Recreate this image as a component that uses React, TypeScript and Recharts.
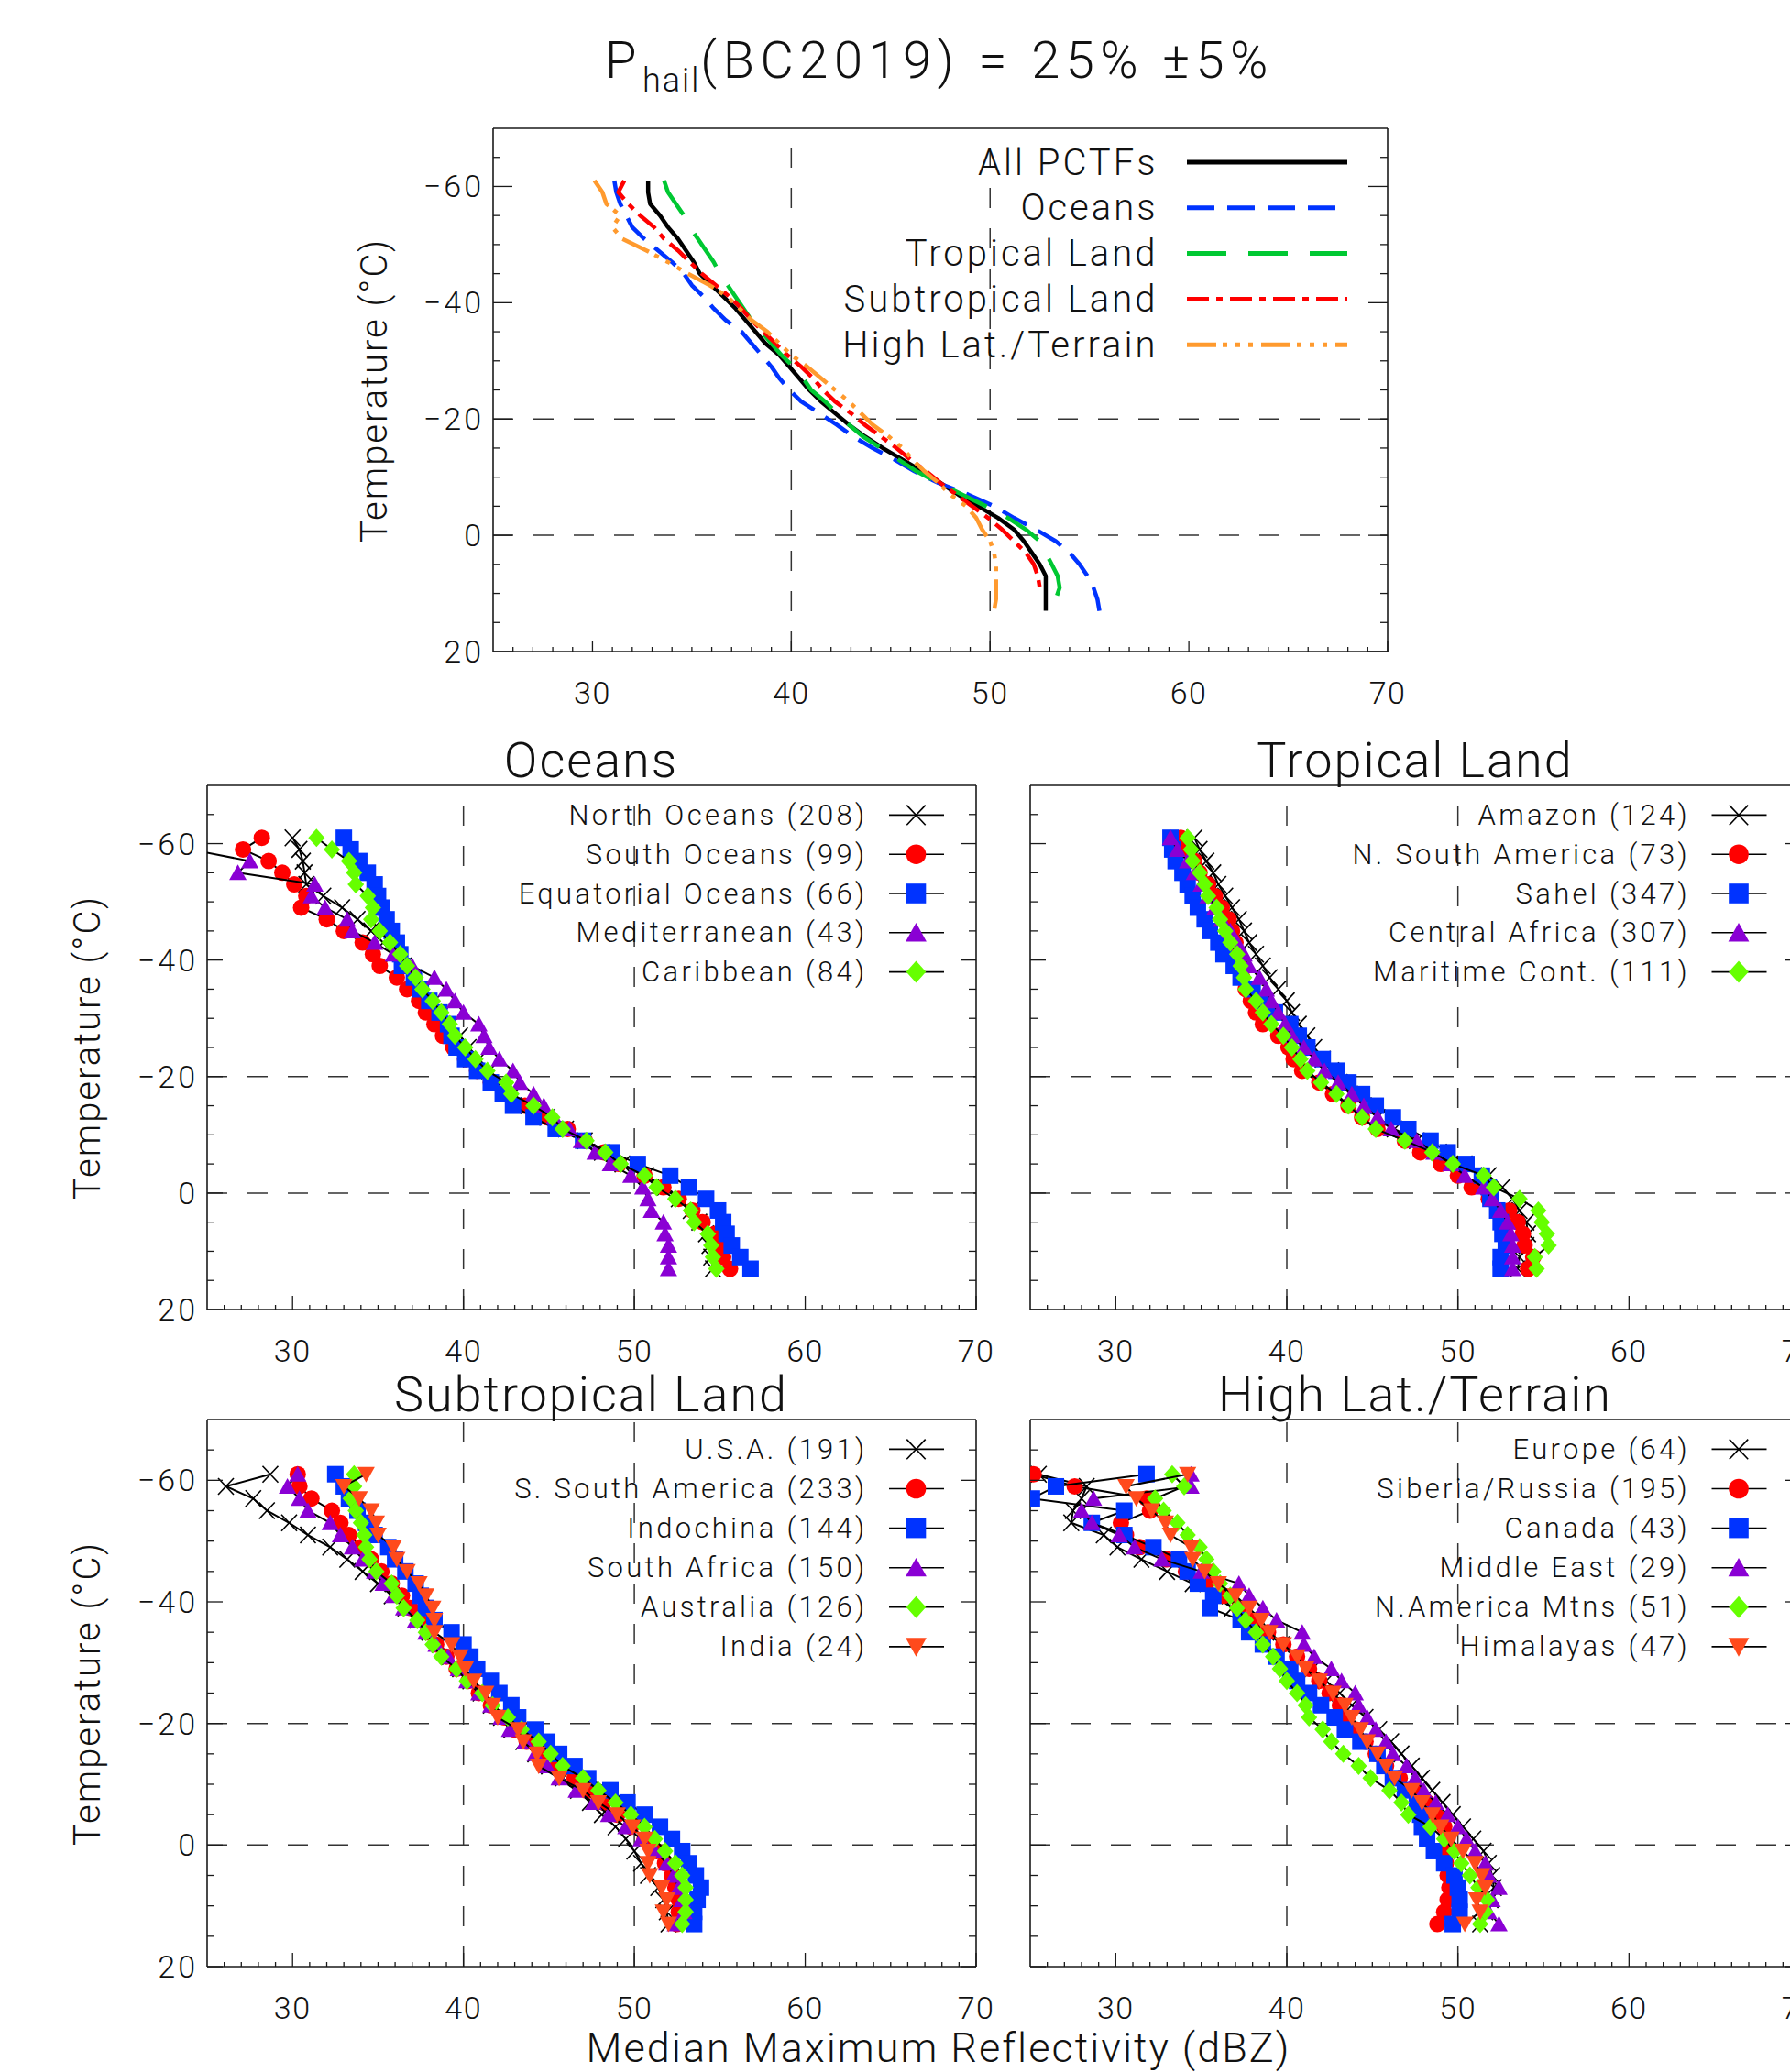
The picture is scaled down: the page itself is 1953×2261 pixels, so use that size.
import React from 'react';
import { ScatterChart, Scatter, XAxis, YAxis, ReferenceLine } from 'recharts';

const FONT = "Roboto, 'Open Sans', 'DejaVu Sans', sans-serif";
const FW = 300;
const INK = '#1a1a1a';

// Temperature levels (deg C) of every profile point
const TEMPS = [-61, -59, -57, -55, -53, -51, -49, -47, -45, -43, -41, -39, -37, -35, -33, -31, -29, -27, -25, -23, -21, -19, -17, -15, -13, -11, -9, -7, -5, -3, -1, 1, 3, 5, 7, 9, 11, 13];

// ---- top panel: regional medians (dBZ) ----
const ALL_PCTFS = [32.8, 32.8, 32.9, 33.4, 33.8, 34.3, 34.7, 35.1, 35.4, 36.0, 36.6, 37.2, 37.7, 38.2, 38.7, 39.4, 39.9, 40.4, 40.9, 41.5, 42.2, 42.9, 43.7, 44.6, 45.6, 46.6, 47.5, 48.4, 49.4, 50.4, 51.2, 51.7, 52.1, 52.5, 52.8, 52.8, 52.8, 52.8];
const OCEANS_ALL = [31.1, 31.2, 31.4, 31.7, 32.0, 32.6, 33.3, 34.0, 34.6, 35.0, 35.6, 36.1, 36.7, 37.5, 38.0, 38.5, 39.0, 39.4, 39.9, 40.5, 41.4, 42.3, 43.1, 44.1, 45.2, 46.2, 47.4, 48.9, 50.2, 51.2, 52.3, 53.3, 54.0, 54.5, 54.9, 55.2, 55.4, 55.5];
const TROPICAL_ALL = [33.6, 33.8, 34.2, 34.6, 34.9, 35.3, 35.7, 36.1, 36.4, 36.8, 37.2, 37.6, 38.0, 38.5, 39.0, 39.5, 40.1, 40.6, 41.0, 41.7, 42.3, 42.9, 43.6, 44.5, 45.4, 46.3, 47.4, 48.6, 49.8, 50.9, 51.8, 52.5, 52.8, 53.1, 53.4, 53.5, 53.3, 53.3];
const SUBTROP_ALL = [31.6, 31.3, 31.8, 32.4, 33.1, 33.6, 34.3, 34.9, 35.5, 36.2, 36.9, 37.5, 38.0, 38.6, 39.2, 39.8, 40.5, 41.1, 41.6, 42.2, 43.0, 43.7, 44.5, 45.3, 46.0, 46.8, 47.5, 48.3, 49.1, 49.9, 50.6, 51.2, 51.8, 52.2, 52.4, 52.5, null, null];
const HIGHLAT_ALL = [30.1, 30.5, 30.7, 31.4, 31.0, 31.5, 32.7, 33.8, 34.8, 35.9, 36.8, 37.4, 38.0, 38.8, 39.4, 40.0, 40.8, 41.5, 42.2, 42.9, 43.5, 44.1, 44.9, 45.6, 46.1, 46.7, 47.4, 48.0, 48.8, 49.3, 49.6, 50.0, 50.2, 50.3, 50.3, 50.3, 50.3, 50.2];

// ---- Oceans ----
const NORTH_OCEANS = [30.0, 30.4, 30.6, 30.7, 30.8, 31.8, 32.9, 33.8, 34.6, 35.3, 35.9, 36.5, 37.1, 37.7, 38.3, 38.8, 39.3, 39.8, 40.3, 40.9, 41.5, 42.2, 42.9, 43.8, 44.9, 46.0, 47.1, 48.1, 49.3, 50.7, 51.8, 52.6, 53.3, 53.8, 54.2, 54.4, 54.5, 54.6];
const SOUTH_OCEANS = [28.2, 27.1, 28.6, 29.4, 30.1, 30.8, 30.5, 32.0, 33.0, 34.1, 34.7, 35.1, 36.1, 36.7, 37.4, 37.8, 38.3, 38.8, 39.4, 40.1, 40.8, 41.6, 42.5, 43.6, 44.9, 46.1, 47.1, 48.2, 49.1, 50.6, 51.7, 52.6, 53.4, 54.0, 54.7, 55.0, 55.2, 55.6];
const EQUATORIAL_OCEANS = [33.0, 33.4, 33.9, 34.4, 34.8, 35.0, 35.2, 35.5, 35.8, 36.1, 36.3, 36.4, 37.1, 37.5, 38.0, 38.6, 39.1, 39.3, 39.6, 40.1, 40.8, 41.6, 42.3, 42.9, 44.1, 45.4, 47.0, 48.7, 50.2, 52.1, 53.2, 54.2, 54.9, 55.2, 55.4, 55.7, 56.2, 56.8];
const MEDITERRANEAN = [null, 24.0, 27.5, 26.8, 31.3, 31.1, 31.9, 33.2, 33.5, 34.8, 35.9, 37.0, 38.3, 39.0, 39.5, 40.0, 40.9, 41.2, 41.5, 42.1, 42.9, 43.3, 44.1, 44.7, 45.3, 46.2, 46.9, 47.7, 48.6, 49.8, 50.5, 50.8, 51.0, 51.7, 51.8, 52.0, 52.0, 52.0];
const CARIBBEAN = [31.4, 32.3, 33.3, 33.6, 33.7, 34.4, 34.7, 34.6, 35.1, 35.7, 36.3, 36.7, 37.2, 37.6, 38.2, 38.7, 39.2, 39.5, 40.1, 40.7, 41.4, 42.5, 42.8, 44.1, 45.2, 45.8, 47.2, 48.3, 49.2, 50.6, 51.3, 52.4, 53.3, 53.5, 54.3, 54.5, 54.6, 54.8];

// ---- Tropical Land ----
const AMAZON = [34.6, 34.9, 35.3, 35.7, 36.0, 36.4, 36.8, 37.2, 37.5, 37.8, 38.2, 38.6, 39.0, 39.5, 40.0, 40.3, 40.7, 41.2, 41.6, 42.1, 42.6, 43.1, 43.7, 44.5, 45.3, 46.3, 47.6, 48.9, 50.4, 51.8, 52.6, 53.2, 53.6, 54.0, 54.1, 54.0, 53.6, 53.5];
const N_SOUTH_AMERICA = [33.8, 34.1, 34.6, 34.9, 35.4, 35.8, 36.2, 36.6, 36.8, 37.0, 37.1, 37.2, 37.4, 37.6, 37.9, 38.2, 38.6, 39.5, 40.1, 40.4, 40.9, 41.9, 42.7, 43.6, 44.4, 45.3, 46.9, 47.8, 49.0, 50.0, 50.8, 51.8, 53.0, 53.5, 53.8, 53.9, 54.4, 54.1];
const SAHEL = [33.2, 33.3, 33.5, 33.9, 34.2, 34.5, 34.8, 35.2, 35.5, 36.0, 36.3, 36.9, 37.3, 38.0, 38.6, 39.3, 40.2, 40.7, 41.2, 42.1, 42.9, 43.6, 44.4, 45.2, 46.2, 47.1, 48.4, 49.4, 50.5, 51.4, 51.8, 51.9, 52.3, 52.5, 52.6, 52.8, 52.5, 52.5];
const CENTRAL_AFRICA = [33.2, 33.6, 34.2, 34.6, 35.0, 35.4, 35.8, 36.2, 36.7, 37.1, 37.5, 37.8, 38.4, 38.8, 39.1, 39.5, 39.9, 40.3, 41.0, 41.6, 42.2, 43.0, 43.8, 44.5, 45.3, 46.1, 47.6, 48.6, 49.6, 50.4, 51.5, 52.0, 52.5, 52.9, 53.1, 53.2, 53.2, 53.2];
const MARITIME_CONT = [34.2, 34.4, 34.5, 34.9, 35.2, 35.4, 35.9, 36.1, 36.4, 36.7, 37.1, 37.3, 37.5, 37.6, 38.2, 38.6, 39.1, 39.8, 40.3, 40.8, 41.2, 42.0, 42.9, 43.6, 44.4, 45.2, 46.9, 48.5, 49.7, 51.5, 52.1, 53.6, 54.7, 54.9, 55.2, 55.3, 54.5, 54.6];

// ---- Subtropical Land ----
const USA = [28.7, 26.1, 27.7, 28.5, 29.8, 30.9, 32.2, 33.2, 34.1, 35.0, 35.8, 36.6, 37.3, 38.0, 38.6, 39.2, 39.8, 40.4, 41.0, 41.6, 42.2, 42.8, 43.5, 44.2, 45.0, 45.8, 46.7, 47.4, 48.1, 48.9, 49.5, 50.0, 50.4, 50.8, 51.4, 51.7, 51.9, 52.0];
const S_SOUTH_AMERICA = [30.3, 30.4, 31.1, 32.3, 32.8, 33.3, 34.0, 34.6, 35.2, 35.8, 36.4, 36.9, 37.4, 37.9, 38.4, 39.0, 39.6, 40.3, 40.9, 41.6, 42.4, 43.0, 43.7, 44.6, 45.5, 46.5, 47.4, 48.2, 49.0, 49.8, 50.6, 51.3, 51.8, 52.2, 52.4, 52.6, 52.6, 52.5];
const INDOCHINA = [32.5, 33.0, 33.3, 33.8, 34.3, 34.8, 35.6, 36.0, 36.6, 37.2, 37.5, 37.8, 38.3, 39.3, 40.0, 40.4, 40.8, 41.6, 42.1, 42.8, 43.2, 44.2, 44.9, 45.6, 46.5, 47.3, 48.6, 49.6, 50.6, 51.5, 52.2, 52.8, 53.2, 53.6, 53.9, 53.7, 53.5, 53.5];
const SOUTH_AFRICA = [30.3, 29.7, 30.4, 30.9, 32.2, 32.8, 33.5, 34.1, 34.8, 35.3, 35.9, 36.5, 37.2, 37.8, 38.4, 39.1, 39.7, 40.2, 40.9, 41.6, 42.2, 42.7, 43.6, 44.2, 44.9, 45.6, 46.6, 47.6, 48.5, 49.5, 50.4, 51.2, 51.9, 52.3, 52.6, 52.8, 52.9, 52.4];
const AUSTRALIA = [33.6, 33.6, 33.4, 33.7, 34.0, 34.2, 34.3, 34.5, 34.9, 35.8, 36.1, 36.5, 37.3, 37.8, 38.2, 38.7, 39.6, 40.2, 41.1, 41.7, 42.6, 43.4, 44.4, 45.1, 45.8, 47.0, 47.9, 48.9, 49.8, 50.6, 51.2, 51.8, 52.4, 52.8, 53.0, 53.0, 53.0, 52.8];
const INDIA = [34.3, 33.0, 33.9, 34.6, 34.9, 35.0, 35.9, 36.1, 36.7, 37.4, 37.8, 38.2, 38.3, 38.3, 39.3, 39.8, 40.1, 40.6, 41.3, 41.7, 42.0, 43.2, 43.5, 44.3, 44.4, 45.6, 47.0, 47.9, 49.0, 49.9, 50.6, 50.8, 50.8, 50.9, 51.6, 51.9, 51.7, 52.0];

// ---- High Lat./Terrain ----
const EUROPE = [25.5, 28.3, 28.0, 27.5, 27.4, 29.3, 30.1, 31.5, 33.0, 34.5, 35.8, 36.8, 37.8, 38.8, 39.7, 40.6, 41.5, 42.3, 43.1, 43.8, 44.6, 45.4, 46.1, 46.7, 47.3, 47.9, 48.5, 49.1, 49.7, 50.3, 50.9, 51.5, 51.8, 52.0, 52.1, 51.9, 51.6, 51.3];
const SIBERIA_RUSSIA = [25.2, 27.6, 31.8, 32.0, 30.3, 30.6, 31.4, 33.0, 34.1, 35.3, 36.3, 37.2, 38.0, 38.9, 39.8, 40.6, 41.3, 41.9, 42.5, 43.1, 43.5, 44.0, 44.6, 45.2, 45.8, 46.6, 47.6, 48.2, 48.7, 49.2, 49.4, 49.4, 49.3, 49.4, 49.5, 49.4, 49.2, 48.8];
const CANADA = [31.8, 26.5, 25.1, 30.5, 28.6, 30.5, 32.2, 33.7, 34.2, 34.8, 35.7, 35.5, 37.3, 37.8, 38.6, 39.4, 40.2, 40.6, 41.3, 42.0, 42.8, 43.4, 44.3, 45.3, 45.7, 46.2, 46.9, 47.6, 47.8, 47.9, 48.2, 48.6, 49.2, 49.8, 50.0, 50.1, 50.1, 49.7];
const MIDDLE_EAST = [34.4, 34.4, 28.7, 28.0, 28.6, 30.2, 31.1, 32.7, 35.0, 37.2, 37.8, 38.6, 39.4, 40.9, 41.0, 41.6, 42.6, 43.2, 44.0, 44.2, 44.7, 45.2, 45.8, 46.2, 47.0, 47.5, 48.0, 48.7, 49.4, 50.0, 50.5, 51.0, 51.6, 51.8, 52.4, 52.0, 51.8, 52.4];
const NAMERICA_MTNS = [33.3, 34.0, 32.3, 32.8, 33.6, 34.2, 34.9, 35.3, 35.7, 36.1, 36.7, 37.1, 37.6, 38.2, 38.6, 39.2, 39.6, 40.0, 40.6, 41.1, 41.3, 42.1, 42.6, 43.3, 44.2, 44.9, 46.0, 46.7, 47.1, 48.4, 49.2, 49.8, 50.2, 50.7, 51.2, 51.7, 51.6, 51.3];
const HIMALAYAS = [34.2, 30.6, 31.2, 32.1, 32.9, 33.2, 34.4, 34.5, 35.2, 36.0, 37.0, 37.8, 38.5, 39.0, 39.8, 40.6, 41.1, 41.9, 42.7, 43.4, 43.8, 44.3, 44.7, 45.3, 45.8, 46.3, 47.3, 47.9, 48.5, 49.0, 49.6, 50.3, 51.0, 51.4, 51.6, 51.1, 51.3, 50.4];

// ---- axes ----
const X_DOMAIN = [25, 70];
const Y_DOMAIN = [-70, 20];
const X_TICKS = Array.from({ length: 45 }, (_, i) => 26 + i);
const Y_TICKS = [-65, -60, -55, -50, -45, -40, -35, -30, -25, -20, -15, -10, -5, 0, 5, 10, 15, 20];
const GRID_X = [40, 50];
const GRID_Y = [-20, 0];

const C_RED = '#ff0000';
const C_BLUE = '#0033ff';
const C_PURPLE = '#8a00d4';
const C_GREEN = '#66ff00';
const C_ORANGE = '#ff4a1c';

type Kind = 'x' | 'circle' | 'square' | 'triUp' | 'diamond' | 'triDown';
type MSeries = { label: string; values: (number | null)[]; kind: Kind; color: string };
type LSeries = { label: string; values: (number | null)[]; color: string; dash?: string };

const OCEAN_SERIES: MSeries[] = [
  { label: 'North Oceans (208)', values: NORTH_OCEANS, kind: 'x', color: '#000' },
  { label: 'South Oceans (99)', values: SOUTH_OCEANS, kind: 'circle', color: C_RED },
  { label: 'Equatorial Oceans (66)', values: EQUATORIAL_OCEANS, kind: 'square', color: C_BLUE },
  { label: 'Mediterranean (43)', values: MEDITERRANEAN, kind: 'triUp', color: C_PURPLE },
  { label: 'Caribbean (84)', values: CARIBBEAN, kind: 'diamond', color: C_GREEN },
];
const TROPICAL_SERIES: MSeries[] = [
  { label: 'Amazon (124)', values: AMAZON, kind: 'x', color: '#000' },
  { label: 'N. South America (73)', values: N_SOUTH_AMERICA, kind: 'circle', color: C_RED },
  { label: 'Sahel (347)', values: SAHEL, kind: 'square', color: C_BLUE },
  { label: 'Central Africa (307)', values: CENTRAL_AFRICA, kind: 'triUp', color: C_PURPLE },
  { label: 'Maritime Cont. (111)', values: MARITIME_CONT, kind: 'diamond', color: C_GREEN },
];
const SUBTROP_SERIES: MSeries[] = [
  { label: 'U.S.A. (191)', values: USA, kind: 'x', color: '#000' },
  { label: 'S. South America (233)', values: S_SOUTH_AMERICA, kind: 'circle', color: C_RED },
  { label: 'Indochina (144)', values: INDOCHINA, kind: 'square', color: C_BLUE },
  { label: 'South Africa (150)', values: SOUTH_AFRICA, kind: 'triUp', color: C_PURPLE },
  { label: 'Australia (126)', values: AUSTRALIA, kind: 'diamond', color: C_GREEN },
  { label: 'India (24)', values: INDIA, kind: 'triDown', color: C_ORANGE },
];
const HIGHLAT_SERIES: MSeries[] = [
  { label: 'Europe (64)', values: EUROPE, kind: 'x', color: '#000' },
  { label: 'Siberia/Russia (195)', values: SIBERIA_RUSSIA, kind: 'circle', color: C_RED },
  { label: 'Canada (43)', values: CANADA, kind: 'square', color: C_BLUE },
  { label: 'Middle East (29)', values: MIDDLE_EAST, kind: 'triUp', color: C_PURPLE },
  { label: 'N.America Mtns (51)', values: NAMERICA_MTNS, kind: 'diamond', color: C_GREEN },
  { label: 'Himalayas (47)', values: HIMALAYAS, kind: 'triDown', color: C_ORANGE },
];
const TOP_SERIES: LSeries[] = [
  { label: 'All PCTFs', values: ALL_PCTFS, color: '#000' },
  { label: 'Oceans', values: OCEANS_ALL, color: '#0033ff', dash: '30 14' },
  { label: 'Tropical Land', values: TROPICAL_ALL, color: '#00c832', dash: '43 24' },
  { label: 'Subtropical Land', values: SUBTROP_ALL, color: '#ff0000', dash: '24 8 7 8' },
  { label: 'High Lat./Terrain', values: HIGHLAT_ALL, color: '#ff9a2e', dash: '32 7 5 9 5 9 5 9' },
];

const toPoints = (vals: (number | null)[]) =>
  TEMPS.map((t, i) => ({ t, z: vals[i] })).filter((p) => p.z !== null && p.z !== undefined);

function Marker({ kind, cx, cy, color, s = 1 }: { kind: Kind; cx: number; cy: number; color: string; s?: number }) {
  if (cx == null || cy == null || isNaN(cx) || isNaN(cy)) return <g />;
  switch (kind) {
    case 'x':
      return (
        <g stroke="#000" strokeWidth={1.6}>
          <line x1={cx - 8.5 * s} y1={cy - 9 * s} x2={cx + 8.5 * s} y2={cy + 9 * s} />
          <line x1={cx - 8.5 * s} y1={cy + 9 * s} x2={cx + 8.5 * s} y2={cy - 9 * s} />
        </g>
      );
    case 'circle':
      return <circle cx={cx} cy={cy} r={9 * s} fill={color} />;
    case 'square':
      return <rect x={cx - 9 * s} y={cy - 9 * s} width={18 * s} height={18 * s} fill={color} />;
    case 'triUp':
      return <polygon points={`${cx},${cy - 9 * s} ${cx + 9.5 * s},${cy + 8 * s} ${cx - 9.5 * s},${cy + 8 * s}`} fill={color} />;
    case 'triDown':
      return <polygon points={`${cx},${cy + 9 * s} ${cx + 9.5 * s},${cy - 8 * s} ${cx - 9.5 * s},${cy - 8 * s}`} fill={color} />;
    case 'diamond':
      return <polygon points={`${cx},${cy - 10 * s} ${cx + 9 * s},${cy} ${cx},${cy + 10 * s} ${cx - 9 * s},${cy}`} fill={color} />;
  }
  return <g />;
}

const fmtY = (v: number) => (v < 0 ? `\u2212${-v}` : `${v}`);

type TickCfg = { major: number; minor: number; label: boolean; gap: number };

function makeTick(side: 'bottom' | 'top' | 'left' | 'right', cfg: TickCfg) {
  return (p: any) => {
    const { x, y, payload } = p;
    const v = Number(payload.value);
    if (side === 'bottom' || side === 'top') {
      const major = v % 10 === 0;
      const len = major ? cfg.major : cfg.minor;
      const dir = side === 'bottom' ? -1 : 1;
      return (
        <g>
          <line x1={x} x2={x} y1={y} y2={y + dir * len} stroke={INK} strokeWidth={1.3} />
          {cfg.label && major && side === 'bottom' ? (
            <text x={x} y={y + cfg.gap} textAnchor="middle" dominantBaseline="central" fontFamily={FONT} fontWeight={FW} fontSize={34} letterSpacing={1.5} fill="#111">
              {v}
            </text>
          ) : null}
        </g>
      );
    }
    const major = v % 20 === 0;
    const len = major ? cfg.major : cfg.minor;
    const dir = side === 'left' ? 1 : -1;
    return (
      <g>
        <line x1={x} x2={x + dir * len} y1={y} y2={y} stroke={INK} strokeWidth={1.3} />
        {cfg.label && major && side === 'left' ? (
          <text x={x - cfg.gap} y={y} textAnchor="end" dominantBaseline="central" fontFamily={FONT} fontWeight={FW} fontSize={34} letterSpacing={3} fill="#111">
            {fmtY(v)}
          </text>
        ) : null}
      </g>
    );
  };
}

type Spec = { x0: number; y0: number; w: number; h: number };

const PAD = 120;
const axisLine = { stroke: INK, strokeWidth: 1.6 };

function Frame({ spec, yLabels, xMajor, yMajor, children }: { spec: Spec; yLabels: boolean; xMajor: number; yMajor: number; children: React.ReactNode }) {
  const W = spec.w + 2 * PAD;
  const H = spec.h + 2 * PAD;
  const m = PAD - 1;
  return (
    <div style={{ position: 'absolute', left: spec.x0 - PAD, top: spec.y0 - PAD, width: W, height: H }}>
      <ScatterChart width={W} height={H} margin={{ top: m, right: m, bottom: m, left: m }}>
        <XAxis xAxisId="x" dataKey="z" type="number" domain={X_DOMAIN} allowDataOverflow ticks={X_TICKS} interval={0}
          height={1} tickSize={0} tickMargin={0} tickLine={false} axisLine={axisLine}
          tick={makeTick('bottom', { major: xMajor, minor: 5, label: true, gap: 45 })} />
        <XAxis xAxisId="xt" orientation="top" type="number" domain={X_DOMAIN} allowDataOverflow ticks={X_TICKS} interval={0}
          height={1} tickSize={0} tickMargin={0} tickLine={false} axisLine={axisLine}
          tick={makeTick('top', { major: xMajor, minor: 5, label: false, gap: 0 })} />
        <YAxis yAxisId="y" dataKey="t" type="number" domain={Y_DOMAIN} reversed allowDataOverflow ticks={Y_TICKS} interval={0}
          width={1} tickSize={0} tickMargin={0} tickLine={false} axisLine={axisLine}
          tick={makeTick('left', { major: yMajor, minor: 8, label: yLabels, gap: 10 })} />
        <YAxis yAxisId="yr" orientation="right" type="number" domain={Y_DOMAIN} reversed allowDataOverflow ticks={Y_TICKS} interval={0}
          width={1} tickSize={0} tickMargin={0} tickLine={false} axisLine={axisLine}
          tick={makeTick('right', { major: yMajor, minor: 8, label: false, gap: 0 })} />
        {GRID_X.map((g) => (
          <ReferenceLine key={`gx${g}`} x={g} xAxisId="x" yAxisId="y" stroke="#333" strokeWidth={1.5} strokeDasharray="22 22" />
        ))}
        {GRID_Y.map((g) => (
          <ReferenceLine key={`gy${g}`} y={g} xAxisId="x" yAxisId="y" stroke="#333" strokeWidth={1.5} strokeDasharray="22 22" />
        ))}
        {children}
      </ScatterChart>
    </div>
  );
}

function MarkerPanel({ spec, series, yLabels }: { spec: Spec; series: MSeries[]; yLabels: boolean }) {
  return (
    <Frame spec={spec} yLabels={yLabels} xMajor={15} yMajor={17}>
      {series.map((s) => (
        <Scatter key={s.label} name={s.label} data={toPoints(s.values)} xAxisId="x" yAxisId="y" fill={s.color}
          isAnimationActive={false} line={{ stroke: '#000', strokeWidth: 2 }} lineType="joint"
          shape={(p: any) => <Marker kind={s.kind} cx={p.cx} cy={p.cy} color={s.color} />} />
      ))}
    </Frame>
  );
}

function LinePanel({ spec, series }: { spec: Spec; series: LSeries[] }) {
  return (
    <Frame spec={spec} yLabels={true} xMajor={12} yMajor={21}>
      {series.map((s) => (
        <Scatter key={s.label} name={s.label} data={toPoints(s.values)} xAxisId="x" yAxisId="y" fill={s.color}
          isAnimationActive={false} lineType="joint"
          line={{ stroke: s.color, strokeWidth: 4.5, strokeDasharray: s.dash, strokeLinejoin: 'round' }}
          shape={() => <g />} />
      ))}
    </Frame>
  );
}

const SPEC_TOP: Spec = { x0: 538, y0: 140, w: 976, h: 571 };
const SPEC_OCEANS: Spec = { x0: 226, y0: 857, w: 839, h: 572 };
const SPEC_TROPICAL: Spec = { x0: 1123.5, y0: 857, w: 840, h: 572 };
const SPEC_SUBTROP: Spec = { x0: 226, y0: 1549, w: 839, h: 597 };
const SPEC_HIGHLAT: Spec = { x0: 1123.5, y0: 1549, w: 840, h: 597 };

function MarkerLegend({ spec, series, step }: { spec: Spec; series: MSeries[]; step: number }) {
  const right = spec.x0 + 720.5;
  return (
    <g>
      {series.map((s, i) => {
        const y = spec.y0 + 32.4 + i * step;
        const mx = spec.x0 + 773.5;
        return (
          <g key={s.label}>
            <text x={right} y={y} textAnchor="end" dominantBaseline="central" fontFamily={FONT} fontWeight={FW} fontSize={31} letterSpacing={3.3} fill="#111">
              {s.label}
            </text>
            <line x1={spec.x0 + 744} x2={spec.x0 + 804} y1={y} y2={y} stroke="#000" strokeWidth={1.6} />
            <Marker kind={s.kind} cx={mx} cy={y} color={s.color} s={1.2} />
          </g>
        );
      })}
    </g>
  );
}

function TopLegend() {
  return (
    <g>
      {TOP_SERIES.map((s, i) => {
        const y = 177 + i * 49.8;
        return (
          <g key={s.label}>
            <text x={1263.5} y={y} textAnchor="end" dominantBaseline="central" fontFamily={FONT} fontWeight={FW} fontSize={40} letterSpacing={3} fill="#111">
              {s.label}
            </text>
            <line x1={1295} x2={1470} y1={y} y2={y} stroke={s.color} strokeWidth={5} strokeDasharray={s.dash} />
          </g>
        );
      })}
    </g>
  );
}

export default function App() {
  const txt = { fontFamily: FONT, fontWeight: FW, fill: '#111' } as const;
  return (
    <div style={{ position: 'absolute', left: 0, top: 0, width: 1953, height: 2261, overflow: 'hidden', background: '#fff' }}>
      <LinePanel spec={SPEC_TOP} series={TOP_SERIES} />
      <MarkerPanel spec={SPEC_OCEANS} series={OCEAN_SERIES} yLabels={true} />
      <MarkerPanel spec={SPEC_TROPICAL} series={TROPICAL_SERIES} yLabels={false} />
      <MarkerPanel spec={SPEC_SUBTROP} series={SUBTROP_SERIES} yLabels={true} />
      <MarkerPanel spec={SPEC_HIGHLAT} series={HIGHLAT_SERIES} yLabels={false} />
      <svg width={1953} height={2261} style={{ position: 'absolute', left: 0, top: 0, pointerEvents: 'none' }}>
        <text x={1025} y={85} textAnchor="middle" fontSize={56} letterSpacing={6.5} {...txt}>
          <tspan>P</tspan>
          <tspan fontSize={36} dy={15} letterSpacing={2}>hail</tspan>
          <tspan dy={-15}>(BC2019) = 25% ±5%</tspan>
        </text>
        <text x={645} y={848} textAnchor="middle" fontSize={54} letterSpacing={2} {...txt}>Oceans</text>
        <text x={1544} y={848} textAnchor="middle" fontSize={54} letterSpacing={2} {...txt}>Tropical Land</text>
        <text x={645} y={1540} textAnchor="middle" fontSize={54} letterSpacing={2} {...txt}>Subtropical Land</text>
        <text x={1544} y={1540} textAnchor="middle" fontSize={54} letterSpacing={2} {...txt}>High Lat./Terrain</text>
        <text transform="translate(408,426) rotate(-90)" textAnchor="middle" dominantBaseline="central" fontSize={40} letterSpacing={2} {...txt}>Temperature (°C)</text>
        <text transform="translate(95,1143) rotate(-90)" textAnchor="middle" dominantBaseline="central" fontSize={40} letterSpacing={2} {...txt}>Temperature (°C)</text>
        <text transform="translate(95,1848) rotate(-90)" textAnchor="middle" dominantBaseline="central" fontSize={40} letterSpacing={2} {...txt}>Temperature (°C)</text>
        <text x={1024} y={2234} textAnchor="middle" dominantBaseline="central" fontSize={45} letterSpacing={2} {...txt}>Median Maximum Reflectivity (dBZ)</text>
        <TopLegend />
        <MarkerLegend spec={SPEC_OCEANS} series={OCEAN_SERIES} step={42.8} />
        <MarkerLegend spec={SPEC_TROPICAL} series={TROPICAL_SERIES} step={42.8} />
        <MarkerLegend spec={SPEC_SUBTROP} series={SUBTROP_SERIES} step={43.1} />
        <MarkerLegend spec={SPEC_HIGHLAT} series={HIGHLAT_SERIES} step={43.1} />
      </svg>
    </div>
  );
}
